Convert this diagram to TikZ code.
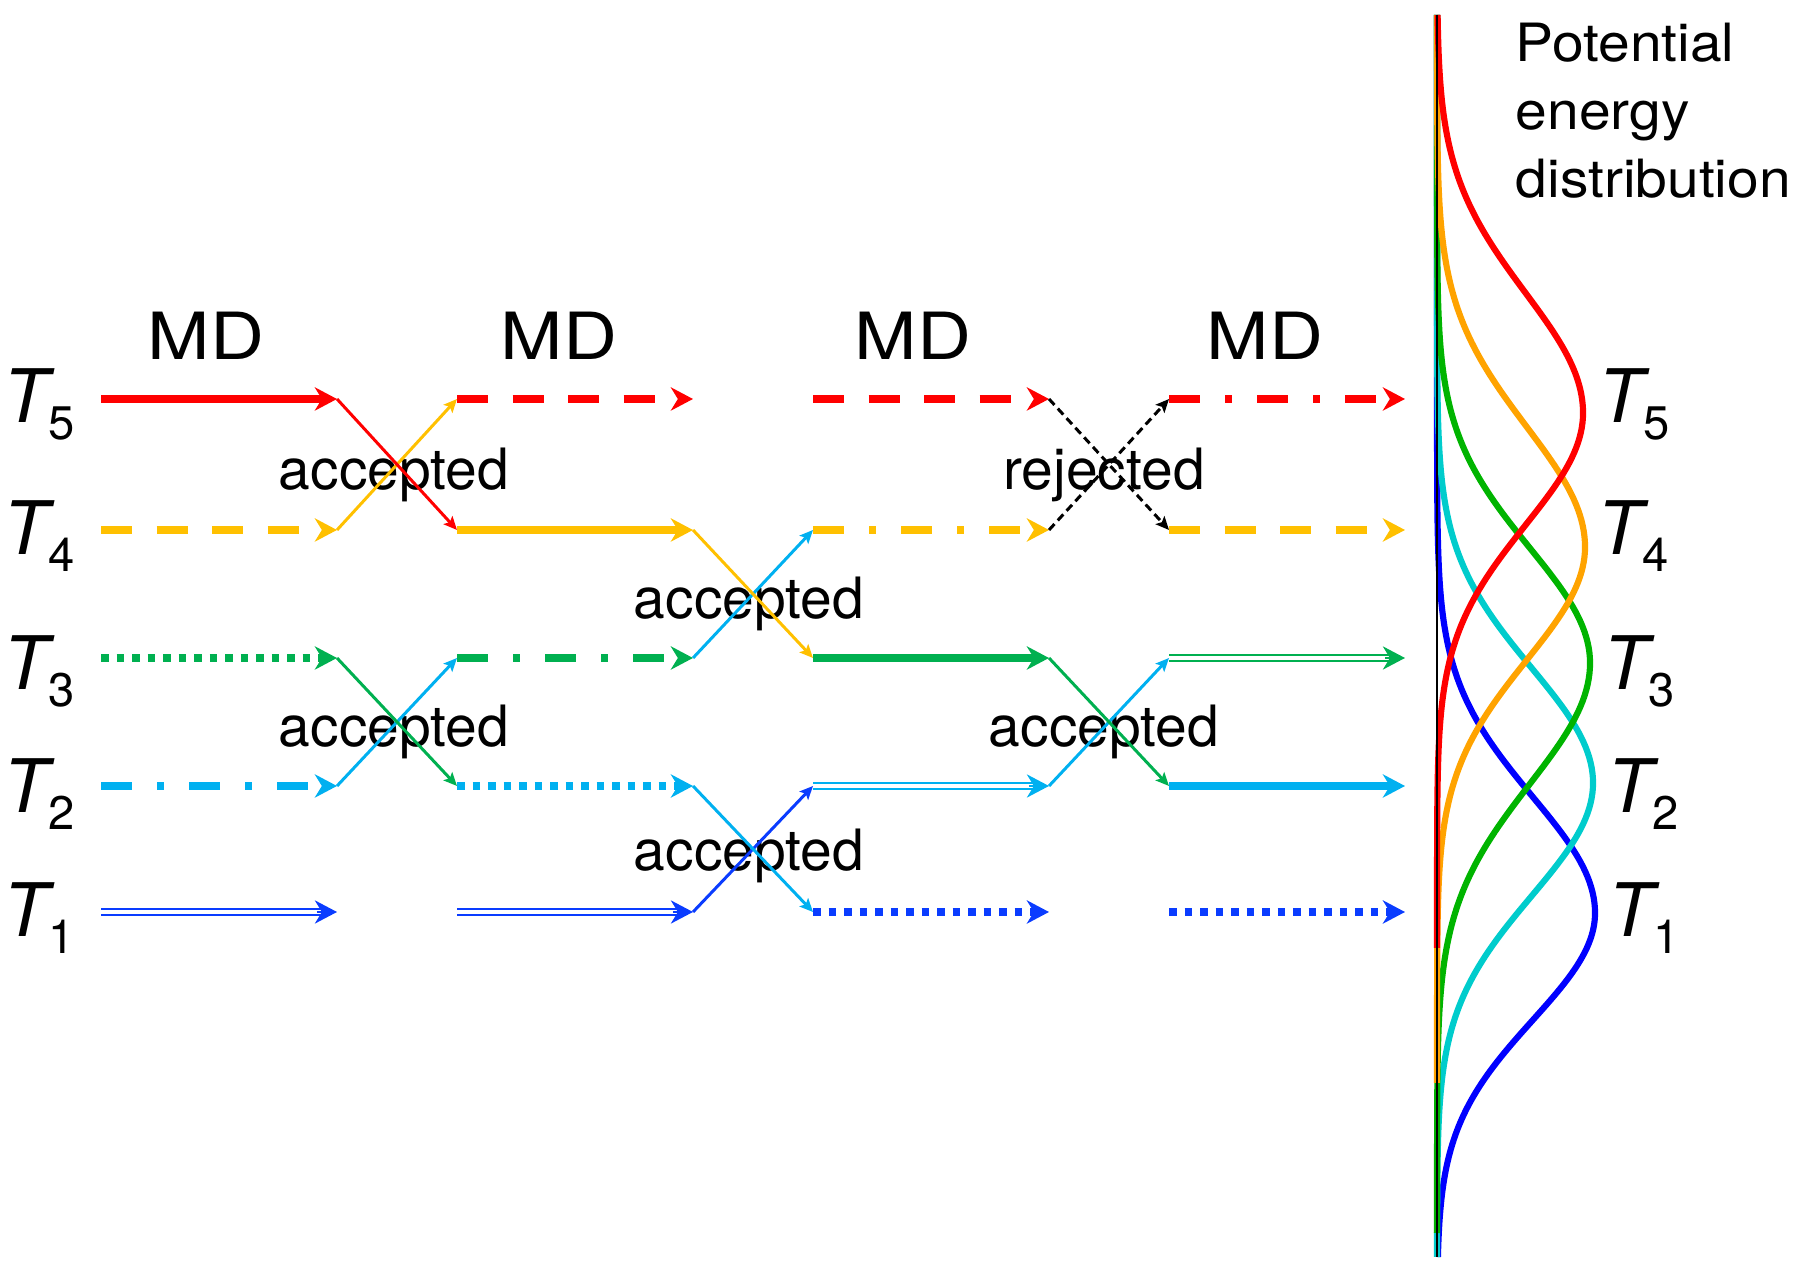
\documentclass[tikz,border=0pt]{standalone}
\usepackage{fontspec}
\setmainfont{TeX Gyre Heros}
\usepackage{graphicx}
\usetikzlibrary{arrows.meta}

\definecolor{cR}{RGB}{255,0,0}
\definecolor{cO}{RGB}{255,192,0}
\definecolor{cG}{RGB}{0,176,80}
\definecolor{cS}{RGB}{0,176,240}
\definecolor{cB}{RGB}{10,60,255}
\definecolor{dR}{RGB}{255,0,0}
\definecolor{dO}{RGB}{255,163,0}
\definecolor{dG}{RGB}{0,180,0}
\definecolor{dC}{RGB}{0,204,204}
\definecolor{dB}{RGB}{0,0,255}

\newcommand\Tlab[1]{{\fontsize{21pt}{21pt}\selectfont\itshape T}\raisebox{-4.8pt}{\fontsize{13.4pt}{13.4pt}\selectfont #1}}

\begin{document}
\begin{tikzpicture}[x=0.01cm,y=-0.01cm,
  bigtip/.tip={Stealth[length=6.3pt,width=6.6pt,inset=2pt]},
  smalltip/.tip={Stealth[length=3.8pt,width=3.4pt,inset=0.8pt]},
  hl/.style={line width=2pt, line cap=butt, -bigtip},
  dashl/.style={hl, dash pattern=on 0.31cm off 0.245cm},
  dotl/.style={hl, dash pattern=on 0.075cm off 0.08cm},
  ddl/.style={hl, dash pattern=on 0.31cm off 0.25cm on 0.07cm off 0.25cm},
  dbl/.style={line width=0.6pt, double distance=1.1pt, double=white, shorten >=0.14cm},
  tipl/.style={line width=0.6pt, -bigtip},
  diag/.style={line width=0.85pt, -smalltip},
  rej/.style={diag, black, dash pattern=on 2.3pt off 1.4pt},
  lbl/.style={font=\fontsize{16.2pt}{18pt}\selectfont, inner sep=0pt, anchor=base},
  mdl/.style={font=\fontsize{18.5pt}{20pt}\selectfont, inner sep=0pt, anchor=base},
  tl/.style={inner sep=0pt, anchor=base west},
  pel/.style={inner sep=0pt, anchor=base west, font=\fontsize{15pt}{18pt}\selectfont},
  curve/.style={line width=1.75pt, line join=round},
  declare function={gg(\t,\m,\s)=exp(-0.5*((\t-\m)/\s)*((\t-\m)/\s));}
]
\path[use as bounding box] (0,0) rectangle (1800,1271);

% grid coordinates
\foreach \r/\yy in {1/912,2/786,3/658,4/530,5/399}{
  \foreach \c/\xs in {1/101,2/457,3/813,4/1169}{
    \coordinate (s\c\r) at (\xs,\yy);
    \coordinate (e\c\r) at (\xs+236,\yy);
  }
}

% labels
\node[mdl] (md1) at (206,360) {\scalebox{1.15}[1]{MD}};
\node[mdl] (md2) at (559,360) {\scalebox{1.15}[1]{MD}};
\node[mdl] (md3) at (913,360) {\scalebox{1.15}[1]{MD}};
\node[mdl] (md4) at (1265,360) {\scalebox{1.15}[1]{MD}};

\node[tl] (L5) at (3,423) {\Tlab{5}};
\node[tl] (L4) at (3,555) {\Tlab{4}};
\node[tl] (L3) at (3,690) {\Tlab{3}};
\node[tl] (L2) at (3,813) {\Tlab{2}};
\node[tl] (L1) at (3,937) {\Tlab{1}};

\node[tl] (R5) at (1598,423) {\Tlab{5}};
\node[tl] (R4) at (1597,555) {\Tlab{4}};
\node[tl] (R3) at (1603,690) {\Tlab{3}};
\node[tl] (R2) at (1607,813) {\Tlab{2}};
\node[tl] (R1) at (1608,937) {\Tlab{1}};

\node[lbl] (acc1) at (394,490) {accepted};
\node[lbl] (acc2) at (394,747) {accepted};
\node[lbl] (acc3) at (749,619) {accepted};
\node[lbl] (acc4) at (749,871) {accepted};
\node[lbl] (rej1) at (1104,490) {rejected};
\node[lbl] (acc5) at (1104,747) {accepted};

\node[pel] (pe1) at (1515,62) {\scalebox{1.08}[1]{Potential}};
\node[pel] (pe2) at (1515,130) {\scalebox{1.08}[1]{energy}};
\node[pel] (pe3) at (1515,198) {\scalebox{1.08}[1]{distribution}};

% segment 1
\draw[hl, cR] (s15) -- (e15);
\draw[dashl, cO] (s14) -- (e14);
\draw[dotl, cG] (s13) -- (e13);
\draw[ddl, cS] (s12) -- (e12);
\draw[dbl, cB] (s11) -- (e11); \draw[tipl, cB] ([xshift=-0.2cm]e11) -- (e11);
% segment 2
\draw[dashl, cR] (s25) -- (e25);
\draw[hl, cO] (s24) -- (e24);
\draw[ddl, cG] (s23) -- (e23);
\draw[dotl, cS] (s22) -- (e22);
\draw[dbl, cB] (s21) -- (e21); \draw[tipl, cB] ([xshift=-0.2cm]e21) -- (e21);
% segment 3
\draw[dashl, cR] (s35) -- (e35);
\draw[ddl, cO] (s34) -- (e34);
\draw[hl, cG] (s33) -- (e33);
\draw[dbl, cS] (s32) -- (e32); \draw[tipl, cS] ([xshift=-0.2cm]e32) -- (e32);
\draw[dotl, cB] (s31) -- (e31);
% segment 4
\draw[ddl, cR] (s45) -- (e45);
\draw[dashl, cO] (s44) -- (e44);
\draw[dbl, cG] (s43) -- (e43); \draw[tipl, cG] ([xshift=-0.2cm]e43) -- (e43);
\draw[hl, cS] (s42) -- (e42);
\draw[dotl, cB] (s41) -- (e41);

% exchanges 1
\draw[diag, cO] (e14) -- (s25);
\draw[diag, cR] (e15) -- (s24);
\draw[diag, cS] (e12) -- (s23);
\draw[diag, cG] (e13) -- (s22);
% exchanges 2
\draw[diag, cS] (e23) -- (s34);
\draw[diag, cO] (e24) -- (s33);
\draw[diag, cB] (e21) -- (s32);
\draw[diag, cS] (e22) -- (s31);
% exchanges 3
\draw[rej] (e35) -- (s44);
\draw[rej] (e34) -- (s45);
\draw[diag, cS] (e32) -- (s43);
\draw[diag, cG] (e33) -- (s42);

% potential energy distributions
\draw[curve, dB] (1437,15) -- plot[domain=449:913, samples=90] ({1437+158*gg(\x,913,116)}, {\x})
  -- plot[domain=913:1257, samples=80] ({1437+158*gg(\x,913,107)}, {\x});
\draw[curve, dC] (1437,15) -- plot[domain=323:783, samples=90] ({1437+156*gg(\x,783,115)}, {\x})
  -- plot[domain=783:1235, samples=90] ({1437+156*gg(\x,783,113)}, {\x}) -- (1437,1257);
\draw[curve, dG] (1437,15) -- plot[domain=203:663, samples=90] ({1437+153*gg(\x,663,115)}, {\x})
  -- plot[domain=663:1147, samples=90] ({1437+153*gg(\x,663,121)}, {\x}) -- (1437,1233);
\draw[curve, dO] (1437,15) -- plot[domain=67:547, samples=90] ({1437+148*gg(\x,547,120)}, {\x})
  -- plot[domain=547:999, samples=90] ({1437+148*gg(\x,547,113)}, {\x}) -- (1437,1083);
\draw[curve, dR] plot[domain=15:413, samples=90] ({1437+146*gg(\x,413,120)}, {\x})
  -- plot[domain=413:861, samples=90] ({1437+146*gg(\x,413,112)}, {\x}) -- (1437,948);
\draw[line width=0.7pt, black] (1437,15) -- (1437,1257);
\end{tikzpicture}
\end{document}
